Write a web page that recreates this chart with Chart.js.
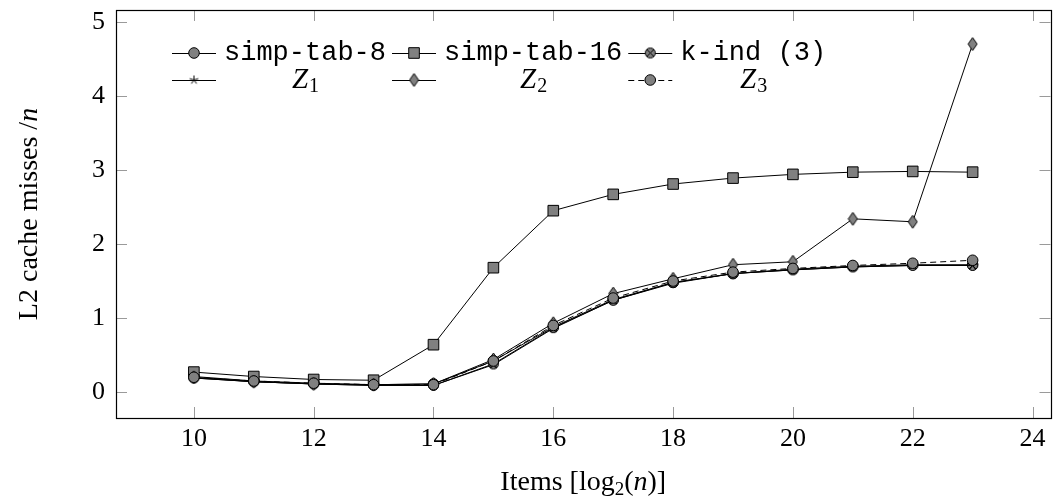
<!DOCTYPE html>
<html>
<head>
<meta charset="utf-8">
<script src="https://cdn.jsdelivr.net/npm/chart.js@4.4.1/dist/chart.umd.min.js"></script>
<style>
  body { margin: 0; background: #fff; }
  #wrap { width: 1059px; height: 502px; }
</style>
</head>
<body>
<div id="wrap"><canvas id="chart"></canvas></div>
<script>
// log2(n)
const items = [10, 11, 12, 13, 14, 15, 16, 17, 18, 19, 20, 21, 22, 23];

// L2 cache misses / n
const simpTab8  = [0.21, 0.15, 0.12, 0.10, 0.11, 0.42, 0.88, 1.25, 1.48, 1.60, 1.66, 1.70, 1.72, 1.72];
const simpTab16 = [0.27, 0.21, 0.17, 0.16, 0.64, 1.68, 2.45, 2.67, 2.81, 2.89, 2.94, 2.97, 2.98, 2.97];
const kInd3     = [0.19, 0.14, 0.11, 0.09, 0.09, 0.38, 0.87, 1.24, 1.48, 1.60, 1.65, 1.69, 1.71, 1.71];
const z1        = [0.19, 0.14, 0.11, 0.09, 0.09, 0.37, 0.86, 1.24, 1.47, 1.60, 1.65, 1.69, 1.71, 1.71];
const z2        = [0.20, 0.14, 0.11, 0.10, 0.11, 0.44, 0.93, 1.33, 1.53, 1.72, 1.76, 2.34, 2.30, 4.70];
const z3        = [0.20, 0.15, 0.12, 0.10, 0.10, 0.42, 0.90, 1.27, 1.50, 1.62, 1.67, 1.71, 1.74, 1.78];

const seriesNames = ['simp-tab-8', 'simp-tab-16', 'k-ind (3)', 'Z_1', 'Z_2', 'Z_3'];
const xTicks = [10, 12, 14, 16, 18, 20, 22, 24];
const yTicks = [0, 1, 2, 3, 4, 5];

const GREY = '#808080';
const serif = "'Liberation Serif', 'Times New Roman', serif";
const mono = "'Liberation Mono', 'DejaVu Sans Mono', monospace";

// marker images
function makeMark(w, h, draw) {
  const c = document.createElement('canvas');
  c.width = w; c.height = h;
  const g = c.getContext('2d');
  g.lineWidth = 1;
  g.strokeStyle = '#000';
  g.fillStyle = GREY;
  draw(g, w, h);
  return c;
}
const otimesMark = makeMark(13, 13, (g) => {
  g.beginPath(); g.arc(6.5, 6.5, 5, 0, Math.PI * 2); g.fill(); g.stroke();
  const d = 3.5;
  g.beginPath();
  g.moveTo(6.5 - d, 6.5 - d); g.lineTo(6.5 + d, 6.5 + d);
  g.moveTo(6.5 + d, 6.5 - d); g.lineTo(6.5 - d, 6.5 + d);
  g.stroke();
});
const diamondMark = makeMark(11, 15, (g) => {
  g.beginPath();
  g.moveTo(5.5, 1); g.lineTo(10, 7.5); g.lineTo(5.5, 14); g.lineTo(1, 7.5); g.closePath();
  g.fill(); g.stroke();
});
const starMark = makeMark(11, 11, (g) => {
  g.beginPath();
  for (let i = 0; i < 5; i++) {
    const a = -Math.PI / 2 + i * 2 * Math.PI / 5;
    g.moveTo(5.5, 5.5);
    g.lineTo(5.5 + 4.5 * Math.cos(a), 5.5 + 4.5 * Math.sin(a));
  }
  g.stroke();
});

const pts = arr => items.map((x, i) => ({ x: x, y: arr[i] }));

const styles = [
  { pointStyle: 'circle', radius: 5.3, dash: [] },
  { pointStyle: 'rect', radius: 7.5, dash: [] },
  { pointStyle: otimesMark, radius: 6, dash: [] },
  { pointStyle: starMark, radius: 5, dash: [] },
  { pointStyle: diamondMark, radius: 7, dash: [] },
  { pointStyle: 'circle', radius: 5.3, dash: [6, 4] }
];
const allSeries = [simpTab8, simpTab16, kInd3, z1, z2, z3];

const datasets = allSeries.map((s, i) => ({
  label: seriesNames[i],
  data: pts(s),
  borderColor: '#000',
  borderWidth: 1,
  borderDash: styles[i].dash,
  backgroundColor: GREY,
  pointStyle: styles[i].pointStyle,
  pointRadius: styles[i].radius,
  pointBackgroundColor: GREY,
  pointBorderColor: '#000',
  pointBorderWidth: 1,
  tension: 0,
  fill: false,
  order: allSeries.length - i
}));

function drawLabel(ctx, text, x, y, font) {
  // "Z_1" style labels: italic Z with subscript
  if (text.startsWith('Z_')) {
    ctx.font = 'italic 29px ' + serif;
    const w1 = ctx.measureText('Z').width;
    ctx.font = '20px ' + serif;
    const w2 = ctx.measureText(text.slice(2)).width;
    let x0 = x - (w1 + w2) / 2;
    ctx.textAlign = 'left';
    ctx.font = 'italic 29px ' + serif;
    ctx.fillText('Z', x0, y);
    ctx.font = '20px ' + serif;
    ctx.fillText(text.slice(2), x0 + w1 + 1, y + 7);
    return;
  }
  ctx.font = font;
  ctx.textAlign = 'center';
  ctx.fillText(text, x, y);
}

const decorPlugin = {
  id: 'decor',
  afterDraw(chart) {
    const { ctx, chartArea: a, scales } = chart;
    ctx.save();
    // inward tick marks on all four sides
    ctx.strokeStyle = '#9a9a9a';
    ctx.lineWidth = 1;
    ctx.beginPath();
    xTicks.forEach(v => {
      const px = Math.round(scales.x.getPixelForValue(v)) + 0.5;
      ctx.moveTo(px, a.bottom); ctx.lineTo(px, a.bottom - 11);
      ctx.moveTo(px, a.top); ctx.lineTo(px, a.top + 11);
    });
    yTicks.forEach(v => {
      const py = Math.round(scales.y.getPixelForValue(v)) + 0.5;
      ctx.moveTo(a.left, py); ctx.lineTo(a.left + 11, py);
      ctx.moveTo(a.right, py); ctx.lineTo(a.right - 11, py);
    });
    ctx.stroke();
    // frame
    ctx.strokeStyle = '#000';
    ctx.lineWidth = 1.2;
    ctx.strokeRect(Math.round(a.left) + 0.5, Math.round(a.top) + 0.5,
      Math.round(a.right - a.left), Math.round(a.bottom - a.top));

    // axis titles
    ctx.fillStyle = '#000';
    ctx.textBaseline = 'middle';
    const F = 28, FS = 19;
    const xt1 = 'Items [log', xt2 = '2', xt3 = '(', xt4 = 'n', xt5 = ')]';
    ctx.font = F + 'px ' + serif; const w1 = ctx.measureText(xt1).width;
    ctx.font = FS + 'px ' + serif; const w2 = ctx.measureText(xt2).width;
    ctx.font = F + 'px ' + serif; const w3 = ctx.measureText(xt3).width;
    ctx.font = 'italic ' + F + 'px ' + serif; const w4 = ctx.measureText(xt4).width;
    ctx.font = F + 'px ' + serif; const w5 = ctx.measureText(xt5).width;
    let xx = (a.left + a.right) / 2 - (w1 + w2 + w3 + w4 + w5) / 2;
    const yy = 483;
    ctx.textAlign = 'left';
    ctx.font = F + 'px ' + serif; ctx.fillText(xt1, xx, yy); xx += w1;
    ctx.font = FS + 'px ' + serif; ctx.fillText(xt2, xx, yy + 7); xx += w2;
    ctx.font = F + 'px ' + serif; ctx.fillText(xt3, xx, yy); xx += w3;
    ctx.font = 'italic ' + F + 'px ' + serif; ctx.fillText(xt4, xx, yy); xx += w4;
    ctx.font = F + 'px ' + serif; ctx.fillText(xt5, xx, yy);

    ctx.save();
    ctx.translate(30, (a.top + a.bottom) / 2);
    ctx.rotate(-Math.PI / 2);
    const yt1 = 'L2 cache misses /', yt2 = 'n';
    ctx.font = F + 'px ' + serif; const v1 = ctx.measureText(yt1).width;
    ctx.font = 'italic ' + F + 'px ' + serif; const v2 = ctx.measureText(yt2).width;
    ctx.font = F + 'px ' + serif; ctx.fillText(yt1, -(v1 + v2) / 2, 0);
    ctx.font = 'italic ' + F + 'px ' + serif; ctx.fillText(yt2, -(v1 + v2) / 2 + v1, 0);
    ctx.restore();

    // legend: 3 columns x 2 rows
    const rowY = [53, 80];
    const legFont = '27px ' + mono;
    let x0 = 172;
    for (let c = 0; c < 3; c++) {
      ctx.font = legFont;
      const colW = ctx.measureText(seriesNames[c]).width;
      for (let r = 0; r < 2; r++) {
        const k = r * 3 + c;
        const y = rowY[r];
        const ds = chart.data.datasets[k];
        ctx.strokeStyle = '#000';
        ctx.lineWidth = 1;
        ctx.setLineDash(ds.borderDash);
        ctx.beginPath(); ctx.moveTo(x0, y + 0.5); ctx.lineTo(x0 + 44, y + 0.5); ctx.stroke();
        ctx.setLineDash([]);
        ctx.fillStyle = GREY;
        ctx.strokeStyle = '#000';
        Chart.helpers.drawPoint(ctx, {
          pointStyle: ds.pointStyle, radius: ds.pointRadius, rotation: 0, borderWidth: 1
        }, x0 + 22, y);
        ctx.fillStyle = '#000';
        ctx.textBaseline = 'middle';
        drawLabel(ctx, seriesNames[k], x0 + 52 + colW / 2, y, legFont);
      }
      x0 = x0 + 52 + colW + 6;
    }
    ctx.restore();
  }
};

new Chart(document.getElementById('chart'), {
  type: 'line',
  data: { datasets: datasets },
  options: {
    responsive: true,
    maintainAspectRatio: false,
    animation: false,
    events: [],
    layout: { padding: { left: 0, right: 5, top: 10, bottom: 0 } },
    plugins: {
      legend: { display: false },
      tooltip: { enabled: false }
    },
    scales: {
      x: {
        type: 'linear',
        min: 8.7,
        max: 24.3,
        afterBuildTicks: scale => { scale.ticks = xTicks.map(v => ({ value: v })); },
        afterFit: scale => { scale.height = 84; scale.paddingLeft = 0; scale.paddingRight = 0; },
        grid: { display: false, drawTicks: false },
        border: { display: false },
        ticks: { color: '#000', padding: 6, font: { family: serif, size: 26 } }
      },
      y: {
        min: -0.35,
        max: 5.16,
        afterBuildTicks: scale => { scale.ticks = yTicks.map(v => ({ value: v })); },
        afterFit: scale => { scale.width = 116; scale.paddingTop = 0; scale.paddingBottom = 0; },
        grid: { display: false, drawTicks: false },
        border: { display: false },
        ticks: { color: '#000', padding: 11, font: { family: serif, size: 26 } }
      }
    }
  },
  plugins: [decorPlugin]
});
</script>
</body>
</html>
